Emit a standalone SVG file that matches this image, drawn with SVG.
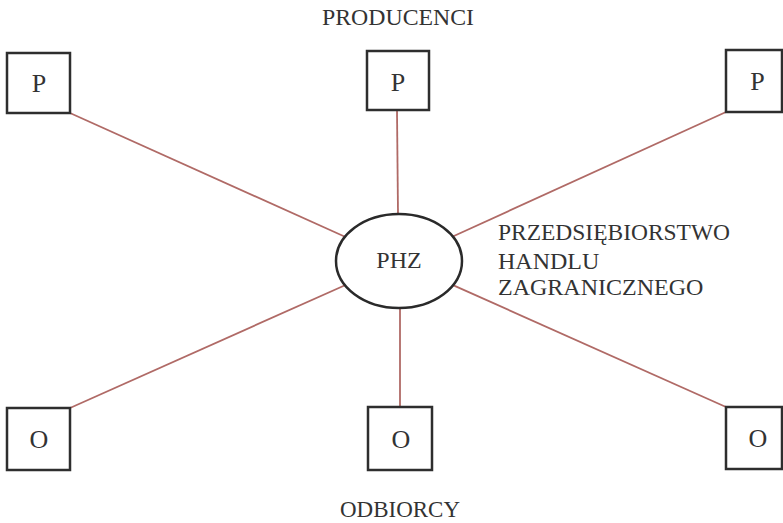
<svg xmlns="http://www.w3.org/2000/svg" width="783" height="523" viewBox="0 0 783 523">
  <style>
    .box { fill: #ffffff; stroke: #2e2e2e; stroke-width: 2.5; }
    .hub { fill: #ffffff; stroke: #2a2a2a; stroke-width: 2.5; }
    .link { stroke: #b06a66; stroke-width: 1.8; fill: none; }
    .lbl { font-family: "Liberation Serif", "Times New Roman", serif; font-size: 24px; fill: #333333; }
    .big { font-size: 26px; }
    .mid { text-anchor: middle; }
  </style>
  <rect width="783" height="523" fill="#ffffff"/>

  <!-- connectors from the hub to producers and buyers -->
  <g id="connectors">
    <line class="link" x1="70" y1="113" x2="345" y2="236.7"/>
    <line class="link" x1="397" y1="111" x2="398" y2="214"/>
    <line class="link" x1="726" y1="112" x2="452.8" y2="236.5"/>
    <line class="link" x1="70" y1="408" x2="345" y2="285.2"/>
    <line class="link" x1="400" y1="308" x2="400" y2="407"/>
    <line class="link" x1="726" y1="407" x2="453" y2="285.1"/>
  </g>

  <text class="lbl" x="322" y="25" textLength="152" lengthAdjust="spacingAndGlyphs">PRODUCENCI</text>
  <text class="lbl" x="340" y="517" textLength="120" lengthAdjust="spacingAndGlyphs">ODBIORCY</text>

  <g id="p1">
    <rect class="box" x="7" y="53" width="63" height="60"/>
    <text class="lbl big mid" x="39" y="92">P</text>
  </g>
  <g id="p2">
    <rect class="box" x="367" y="51" width="62" height="59"/>
    <text class="lbl big mid" x="398" y="91">P</text>
  </g>
  <g id="p3">
    <rect class="box" x="726" y="50" width="56" height="62"/>
    <text class="lbl big mid" x="757.5" y="90">P</text>
  </g>

  <g id="phz">
    <ellipse class="hub" cx="399" cy="261" rx="63" ry="47"/>
    <text class="lbl mid" x="399" y="268">PHZ</text>
  </g>

  <g id="phz-caption">
    <text class="lbl" x="498" y="240" textLength="232" lengthAdjust="spacingAndGlyphs">PRZEDSIĘBIORSTWO</text>
    <text class="lbl" x="498" y="269">HANDLU</text>
    <text class="lbl" x="498" y="295">ZAGRANICZNEGO</text>
  </g>

  <g id="o1">
    <rect class="box" x="7" y="408" width="63" height="62"/>
    <text class="lbl big mid" x="39" y="448">O</text>
  </g>
  <g id="o2">
    <rect class="box" x="368" y="407" width="64" height="63"/>
    <text class="lbl big mid" x="401" y="448">O</text>
  </g>
  <g id="o3">
    <rect class="box" x="726" y="407" width="56" height="62"/>
    <text class="lbl big mid" x="758" y="447">O</text>
  </g>
</svg>
